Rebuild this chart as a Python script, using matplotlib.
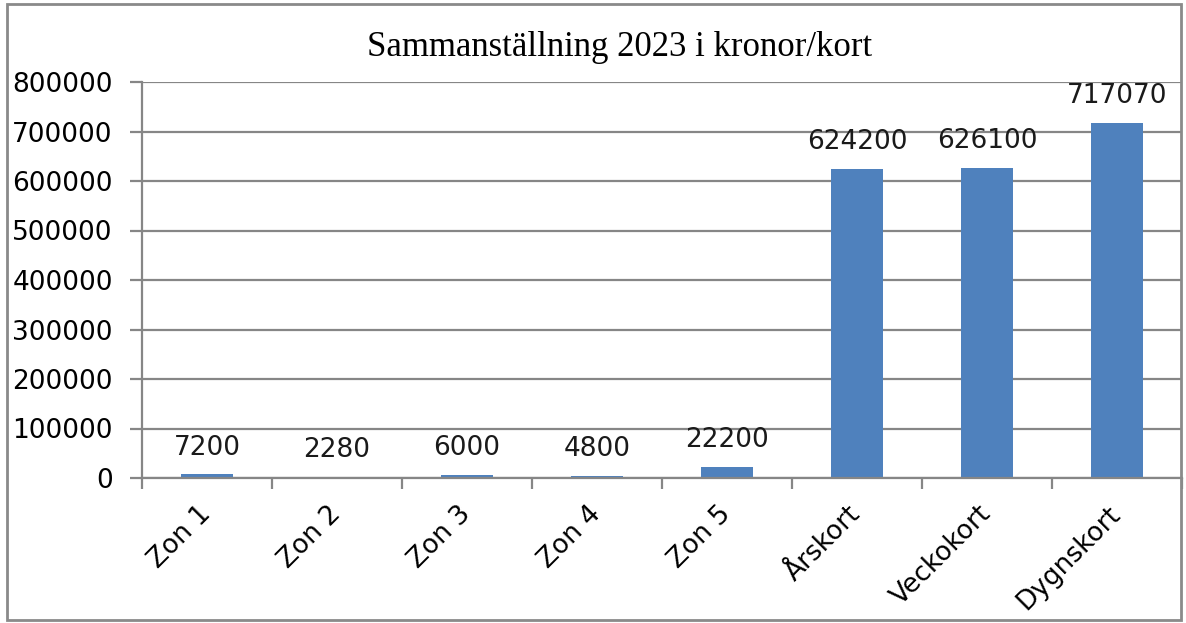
import numpy as np
import matplotlib
matplotlib.use("Agg")
import matplotlib.pyplot as plt
from matplotlib.patches import Rectangle

# data
categories = ["Zon 1", "Zon 2", "Zon 3", "Zon 4", "Zon 5", "Årskort", "Veckokort", "Dygnskort"]
values = [7200, 2280, 6000, 4800, 22200, 624200, 626100, 717070]
yticks = [0, 100000, 200000, 300000, 400000, 500000, 600000, 700000, 800000]
title = "Sammanställning 2023 i kronor/kort"

BAR = "#4F81BD"
GRID = "#868686"
FS = 19

fig = plt.figure(figsize=(11.86, 6.23), dpi=100)
fig.patch.set_facecolor("white")
ax = fig.add_axes([142 / 1186, 1 - 478 / 623, 1040 / 1186, 396 / 623])

x = np.arange(len(categories))
ax.bar(x, values, width=0.4, color=BAR, zorder=3)

ax.set_xlim(-0.5, len(categories) - 0.5)
ax.set_ylim(0, 800000)
ax.set_yticks(yticks)
ax.set_yticklabels([str(v) for v in yticks])
ax.yaxis.grid(True, color=GRID, linewidth=1.6, zorder=0)

# boundary ticks (major) and label positions (minor)
ax.set_xticks(np.arange(len(categories) + 1) - 0.5)
ax.set_xticklabels([])
ax.set_xticks(x, minor=True)
ax.set_xticklabels(categories, minor=True, rotation=45, ha="right",
                   va="center", rotation_mode="anchor")
ax.tick_params(axis="x", which="major", length=8, width=1.6, color=GRID)
ax.tick_params(axis="x", which="minor", length=0, pad=23, labelsize=FS)
ax.tick_params(axis="y", length=9, width=1.6, color=GRID, pad=12, labelsize=FS)

for s in ["top", "right"]:
    ax.spines[s].set_visible(False)
for s in ["left", "bottom"]:
    ax.spines[s].set_color(GRID)
    ax.spines[s].set_linewidth(1.6)
ax.spines["bottom"].set_zorder(4)

for xi, v in zip(x, values):
    ax.annotate(str(v), (xi, v), xytext=(0, 10), textcoords="offset points",
                ha="center", va="bottom", fontsize=FS, color="#1a1a1a")

fig.text(620 / 1186, 1 - 47 / 623, title, ha="center", va="center",
         fontsize=25, family="Liberation Serif")

# outer frame
fig.patches.append(Rectangle((7 / 1186, 3 / 623), 1174 / 1186, 616 / 623,
                             transform=fig.transFigure, fill=False,
                             edgecolor="#8a8a8a", linewidth=2))

fig.savefig("out.png", dpi=100)
